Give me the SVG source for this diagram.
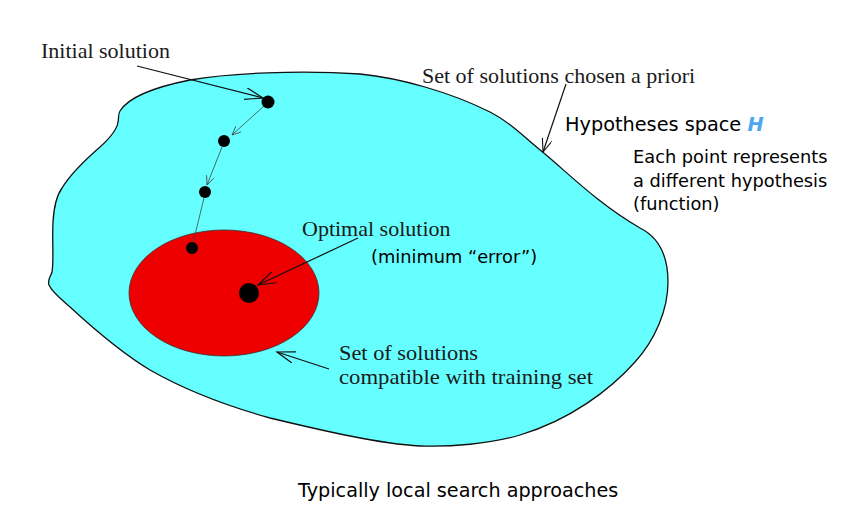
<svg xmlns="http://www.w3.org/2000/svg" width="859" height="505" viewBox="0 0 859 505">
<defs>
<style>
.serif{font-family:"Liberation Serif","Times New Roman",serif;font-size:22px;fill:#1a1a1a}
.sans{font-family:"DejaVu Sans",Verdana,sans-serif;fill:#000}
.lead{fill:none;stroke:#111;stroke-width:1.2}
.step{fill:none;stroke:#444;stroke-width:0.8}
.dot{fill:#000}
</style>
<marker id="arrowBig" markerUnits="userSpaceOnUse" markerWidth="22" markerHeight="14" refX="18" refY="6" orient="auto">
<path d="M0,0 L18,6 L0,12" fill="none" stroke="#111" stroke-width="1.2"/>
</marker>
<marker id="arrowMid" markerUnits="userSpaceOnUse" markerWidth="16" markerHeight="12" refX="13" refY="5" orient="auto">
<path d="M0,0 L13,5 L0,10" fill="none" stroke="#111" stroke-width="1.1"/>
</marker>
<marker id="arrowSmall" markerUnits="userSpaceOnUse" markerWidth="12" markerHeight="10" refX="9" refY="4" orient="auto">
<path d="M0,0 L9,4 L0,8" fill="none" stroke="#444" stroke-width="0.8"/>
</marker>
</defs>
<rect x="0" y="0" width="859" height="505" fill="#fff"/>

<g id="hypothesis-space">
<path d="M120,111 C128,98 150,88 190,80 C230,73 300,70 360,74 C400,78 450,92 490,112 C510,122 525,138 545,154 C570,175 600,205 640,228 C660,238 668,258 668,282 C668,310 655,340 635,362 C610,390 570,420 520,435 C490,444 450,447 420,446 C380,444 320,430 270,418 C220,404 185,390 150,370 C125,355 95,330 70,307 C60,298 52,292 49,285 C47,280 51,276 52,272 C54,262 52,240 53,222 C54,205 57,195 62,188 C70,175 85,160 100,147 C110,138 117,130 118,122 C119,117 118,114 120,111 Z" fill="#66FFFF" stroke="#111" stroke-width="1.3"/>
</g>

<g id="compatible-set">
<ellipse cx="224" cy="293" rx="95" ry="63" fill="#EE0000" stroke="#333" stroke-width="0.8"/>
</g>

<g id="connectors">
<line class="step" x1="264" y1="106" x2="232" y2="135" marker-end="url(#arrowSmall)"/>
<line class="step" x1="222" y1="147" x2="207" y2="185" marker-end="url(#arrowSmall)"/>
<line class="step" x1="204" y1="198" x2="193" y2="243"/>
<line class="lead" x1="137" y1="66" x2="263" y2="98" marker-end="url(#arrowBig)"/>
<line class="lead" x1="566" y1="84" x2="543" y2="152" marker-end="url(#arrowMid)"/>
<line class="lead" x1="358" y1="238" x2="258" y2="285" marker-end="url(#arrowBig)"/>
<line class="lead" x1="329" y1="369" x2="277" y2="352" marker-end="url(#arrowBig)"/>
</g>

<g id="initial-solution">
<circle class="dot" cx="268" cy="102" r="6.5"/>
<text class="serif" x="41" y="58">Initial solution</text>
</g>
<g id="step-2"><circle class="dot" cx="224" cy="141" r="6"/></g>
<g id="step-3"><circle class="dot" cx="205" cy="192" r="6"/></g>
<g id="step-4"><circle class="dot" cx="192" cy="248" r="6"/></g>
<g id="optimal-solution">
<circle class="dot" cx="249" cy="293" r="10"/>
<text class="serif" x="302" y="236">Optimal solution</text>
<text class="sans" x="371" y="263" font-size="17.8">(minimum “error”)</text>
</g>

<g id="label-apriori">
<text class="serif" x="422" y="83">Set of solutions chosen a priori</text>
</g>
<g id="label-hypotheses">
<text class="sans" x="565" y="131" font-size="19.3">Hypotheses space <tspan fill="#4DA6F0" font-weight="bold" font-style="italic">H</tspan></text>
<text class="sans" x="633" y="163" font-size="17.8">Each point represents</text>
<text class="sans" x="633" y="187" font-size="17.8">a different hypothesis</text>
<text class="sans" x="633" y="210" font-size="17.8">(function)</text>
</g>
<g id="label-compatible">
<text class="serif" x="339" y="360" font-size="19.5" textLength="139" lengthAdjust="spacingAndGlyphs">Set of solutions</text>
<text class="serif" x="339" y="384" font-size="19.5" textLength="254" lengthAdjust="spacingAndGlyphs">compatible with training set</text>
</g>
<g id="caption">
<text class="sans" x="298" y="497" font-size="19.2">Typically local search approaches</text>
</g>
</svg>
